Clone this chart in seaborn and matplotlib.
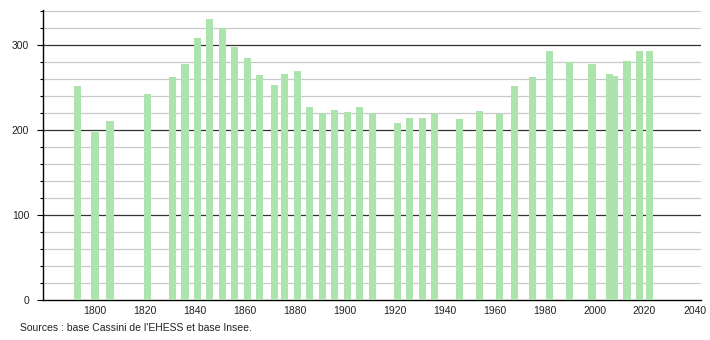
import matplotlib
matplotlib.use("Agg")
import matplotlib.pyplot as plt
import seaborn as sns
import numpy as np
from matplotlib.ticker import MultipleLocator

years = [1793, 1800, 1806, 1821, 1831, 1836, 1841, 1846, 1851, 1856,
         1861, 1866, 1872, 1876, 1881, 1886, 1891, 1896, 1901, 1906,
         1911, 1921, 1926, 1931, 1936, 1946, 1954, 1962, 1968, 1975,
         1982, 1990, 1999, 2006, 2008, 2013, 2018, 2022]
population = [252, 197, 211, 242, 262, 278, 308, 330, 320, 298,
              285, 264, 253, 266, 269, 227, 220, 224, 221, 227,
              220, 208, 214, 214, 220, 213, 222, 219, 252, 262,
              293, 280, 278, 266, 263, 281, 293, 293]
x_ticks = [1800, 1820, 1840, 1860, 1880, 1900, 1920, 1940, 1960, 1980, 2000, 2020, 2040]
y_ticks = [0, 100, 200, 300]
source_text = "Sources : base Cassini de l'EHESS et base Insee."

sns.set_style("white")
plt.rcParams['font.family'] = ['Liberation Sans', 'DejaVu Sans']

fig = plt.figure(figsize=(7.1, 3.4), dpi=100)
ax = fig.add_axes([43 / 710, 40 / 340, (701 - 43) / 710, (300 - 10) / 340])

sns.barplot(x=years, y=population, native_scale=True, width=1.45,
            color="#ade4ad", saturation=1, ax=ax, zorder=3, linewidth=0)

ax.set_xlim(1779.2, 2042.6)
ax.set_ylim(0, 341)
ax.set_xticks(x_ticks)
ax.set_xticklabels([str(v) for v in x_ticks])
ax.set_yticks(y_ticks)
ax.yaxis.set_minor_locator(MultipleLocator(20))

ax.grid(False)
for v in range(20, 341, 20):
    if v % 100 == 0:
        ax.axhline(v, color="#333333", lw=0.9, zorder=1)
    else:
        ax.axhline(v, color="#c8c8c8", lw=0.9, zorder=1)

for s in ["top", "right"]:
    ax.spines[s].set_visible(False)
for s in ["left", "bottom"]:
    ax.spines[s].set_visible(True)
    ax.spines[s].set_color("black")
    ax.spines[s].set_linewidth(1.0)

ax.tick_params(axis="x", length=0, pad=4, labelsize=7.5, colors="#222222")
ax.tick_params(axis="y", which="major", length=4, width=0.8, pad=6,
               labelsize=7.5, colors="#222222", left=True)
ax.tick_params(axis="y", which="minor", length=2, width=0.8, left=True)
ax.tick_params(axis="y", colors="black", which="both")
for lab in ax.get_yticklabels():
    lab.set_color("#222222")
ax.set_xlabel("")
ax.set_ylabel("")

fig.text(20 / 710, 1 - 328 / 340, source_text, fontsize=7.5, color="#222222",
         ha="left", va="center")

fig.savefig("out.png", dpi=100)
